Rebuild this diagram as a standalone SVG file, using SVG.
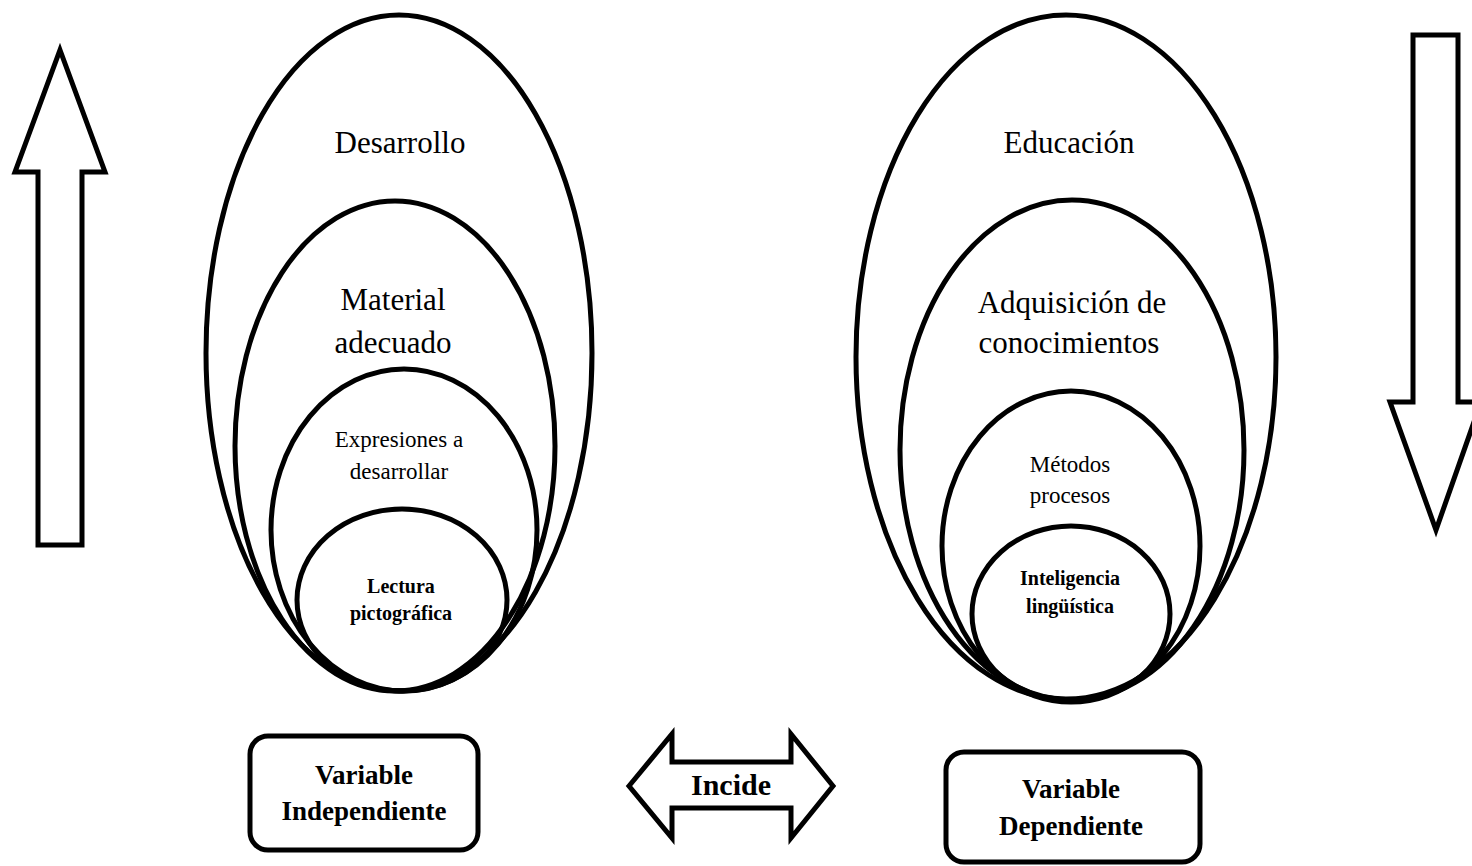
<svg xmlns="http://www.w3.org/2000/svg" width="1472" height="866" viewBox="0 0 1472 866">
<style>
.s{fill:none;stroke:#000;stroke-width:5;stroke-linejoin:miter}
.w{fill:#fff;stroke:#000;stroke-width:5;stroke-linejoin:miter}
.t{font-family:"Liberation Serif","Times New Roman",serif;fill:#000;text-anchor:middle}
.big{font-size:31px}
.mid{font-size:23px}
.sb{font-size:20px;font-weight:bold}
.bb{font-size:27px;font-weight:bold}
</style>
<rect width="1472" height="866" fill="#fff"/>
<g id="arrow-up"><polygon class="s" points="60,50 105,172 82,172 82,545 38,545 38,172 15,172"/></g>
<g id="arrow-down"><polygon class="s" points="1413,35 1458,35 1458,402 1481,402 1436,530 1390,402 1413,402"/></g>
<g id="left-group">
<g id="desarrollo"><ellipse class="s" cx="399" cy="353" rx="193" ry="338"/><text class="t big" x="400" y="153">Desarrollo</text></g>
<g id="material"><ellipse class="s" cx="395" cy="446" rx="160" ry="245"/><text class="t big" x="393" y="310">Material</text><text class="t big" x="393" y="353">adecuado</text></g>
<g id="expresiones"><ellipse class="s" cx="404" cy="530" rx="133" ry="161"/><text class="t mid" x="399" y="447">Expresiones a</text><text class="t mid" x="399" y="479">desarrollar</text></g>
<g id="lectura"><ellipse class="s" cx="402" cy="600" rx="105" ry="91"/><text class="t sb" x="401" y="593">Lectura</text><text class="t sb" x="401" y="620">pictográfica</text></g>
</g>
<g id="right-group">
<g id="educacion"><ellipse class="s" cx="1066" cy="357" rx="210" ry="342"/><text class="t big" x="1069" y="153">Educación</text></g>
<g id="adquisicion"><ellipse class="s" cx="1072" cy="450" rx="172" ry="250"/><text class="t big" x="1072" y="313">Adquisición de</text><text class="t big" x="1069" y="353">conocimientos</text></g>
<g id="metodos"><ellipse class="s" cx="1071" cy="546" rx="129" ry="155"/><text class="t mid" x="1070" y="472">Métodos</text><text class="t mid" x="1070" y="503">procesos</text></g>
<g id="inteligencia"><ellipse class="s" cx="1071" cy="614" rx="99" ry="88"/><text class="t sb" x="1070" y="585">Inteligencia</text><text class="t sb" x="1070" y="613">lingüística</text></g>
</g>
<g id="var-independiente"><rect class="w" x="250" y="736" width="228" height="114" rx="18"/><text class="t bb" x="364" y="784">Variable</text><text class="t bb" x="364" y="820">Independiente</text></g>
<g id="connectors"><g id="incide"><polygon class="w" points="629,786 672,734 672,762 791,762 791,734 833,786 791,838 791,808 672,808 672,838"/><text class="t" x="731" y="795" style="font-size:30px;font-weight:bold">Incide</text></g></g>
<g id="var-dependiente"><rect class="w" x="946" y="752" width="254" height="110" rx="18"/><text class="t bb" x="1071" y="798">Variable</text><text class="t bb" x="1071" y="835">Dependiente</text></g>
</svg>
